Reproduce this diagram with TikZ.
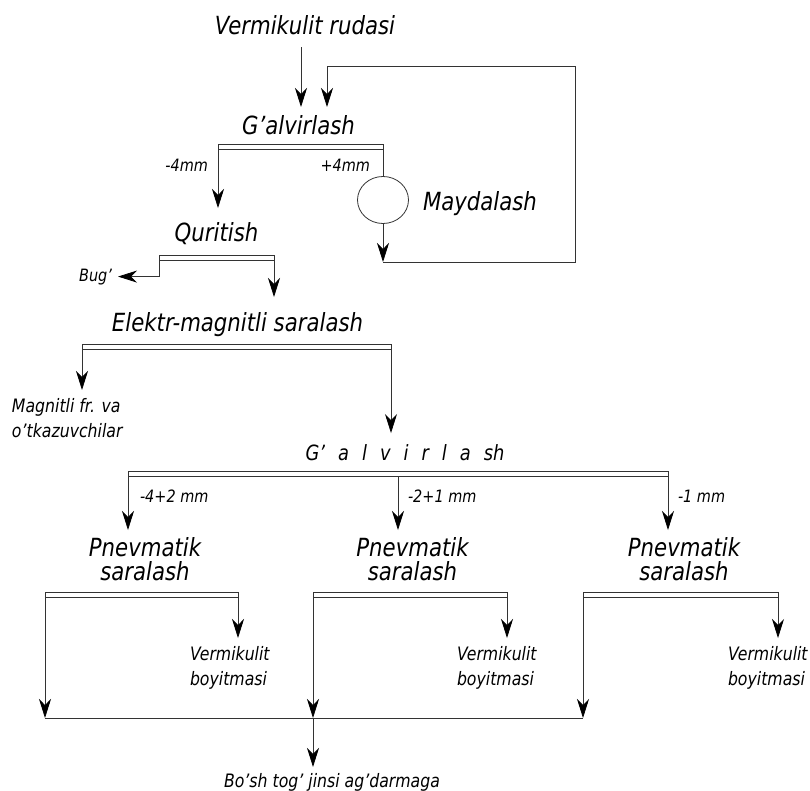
\documentclass[tikz,border=0pt]{standalone}
\usepackage{fontspec}
\setmainfont{DejaVu Sans}[FakeStretch=0.85]
\usetikzlibrary{arrows.meta,shapes.geometric}

\begin{document}
\begin{tikzpicture}[x=1pt,y=-1pt]
    \tikzset{
        flow/.style={draw=black!80, line width=0.8pt},
        arr/.style={flow, -{Stealth[length=19pt,width=12pt,inset=6pt,black]}},
        head/.style={font=\fontsize{25}{24}\selectfont\itshape, inner sep=0pt, outer sep=0pt},
        note/.style={font=\fontsize{18.5}{25}\selectfont\itshape, inner sep=0pt, outer sep=0pt},
        small/.style={font=\fontsize{17}{20}\selectfont\itshape, inner sep=0pt, outer sep=0pt},
        bar/.style={draw=black!80, line width=0.7pt, fill=white, minimum height=5pt, inner sep=0pt, outer sep=0pt},
        mill/.style={ellipse, draw=black!80, line width=0.8pt, minimum width=51pt, minimum height=47pt, inner sep=0pt, outer sep=0pt}
    }
    \useasboundingbox (0,0) rectangle (810,791);

    % Top: screening with crushing loop
    \node [head, anchor=base] (ruda) at (305,35) {Vermikulit rudasi};
    \node [head, anchor=base] (galv1) at (298.5,135) {G'alvirlash};
    \node [bar, minimum width=165pt] (b1) at (300.5,146.5) {};
    \node [small, anchor=base east] (mn4) at (208,172) {-4mm};
    \node [small, anchor=base east] (pl4) at (370,172) {+4mm};
    \node [mill] (mayd) at (383,200) {};
    \node [head, anchor=base west] (maydl) at (423,211) {Maydalash};
    \coordinate (ret) at (383,262);
    \coordinate (loopa) at (575,262);
    \coordinate (loopb) at (575,66);
    \coordinate (loopc) at (327,66);

    \draw [arr, shorten <=12pt, shorten >=9pt] ([xshift=-4pt]ruda.south) -- ([xshift=-4pt]ruda.south |- galv1.north);
    \draw [flow] (b1.south east) -- (mayd.north);
    \draw [arr] (mayd.south) -- (ret);
    \draw [arr, shorten >=9pt] (ret) -- (loopa) -- (loopb) -- (loopc) -- (loopc |- galv1.north);

    % Drying
    \node [head, anchor=base] (quri) at (216.5,242) {Quritish};
    \node [bar, minimum width=115pt] (b2) at (216.5,257.5) {};
    \node [small, anchor=base east] (bug) at (112,281) {Bug'};
    \draw [arr, shorten >=15pt] (b1.south west) -- (b1.south west |- quri.north);
    \draw [arr, shorten >=6pt] (b2.south west) |- (bug.east);

    % Electromagnetic separation
    \node [head, anchor=base] (elmag) at (237.5,331) {Elektr-magnitli saralash};
    \node [bar, minimum width=309pt] (b3) at (236.5,346.5) {};
    \node [note, anchor=north west, align=left] (magn) at (12,398) {Magnitli fr. va\\o'tkazuvchilar};
    \draw [arr, shorten >=15pt] (b2.south east) -- (b2.south east |- elmag.north);
    \draw [arr, shorten >=8pt] (b3.south west) -- (b3.south west |- magn.north);

    % Second screening
    \node [head, anchor=base, font=\fontsize{21}{21}\selectfont\itshape] (galv2) at (405,460) {\spaceskip 13pt\relax G' a l v i r l a sh};
    \node [bar, minimum width=540pt] (b4) at (398,474) {};
    \node [small, anchor=base west] (fr1) at (140,502) {-4+2 mm};
    \node [small, anchor=base west] (fr2) at (408,502) {-2+1 mm};
    \node [small, anchor=base west] (fr3) at (678,502) {-1 mm};
    \draw [arr, shorten >=11pt] (b3.south east) -- (b3.south east |- galv2.north);

    % Pneumatic separation
    \node [head, anchor=north, align=center] (pn1) at (145,538) {Pnevmatik\\saralash};
    \node [head, anchor=north, align=center] (pn2) at (412.5,538) {Pnevmatik\\saralash};
    \node [head, anchor=north, align=center] (pn3) at (684,538) {Pnevmatik\\saralash};
    \draw [arr, shorten >=8pt] (b4.south west) -- (b4.south west |- pn1.north);
    \draw [arr, shorten >=8pt] (b4.south) -- (b4.south |- pn2.north);
    \draw [arr, shorten >=8pt] (b4.south east) -- (b4.south east |- pn3.north);

    \node [bar, minimum width=193pt] (b5) at (141.5,594.5) {};
    \node [bar, minimum width=194pt] (b6) at (410,594.5) {};
    \node [bar, minimum width=195pt] (b7) at (680.5,594.5) {};
    \node [note, anchor=north west, align=left] (ver1) at (190,646) {Vermikulit\\boyitmasi};
    \node [note, anchor=north west, align=left] (ver2) at (457,646) {Vermikulit\\boyitmasi};
    \node [note, anchor=north west, align=left] (ver3) at (728,646) {Vermikulit\\boyitmasi};
    \draw [arr, shorten >=8pt] (b5.south east) -- (b5.south east |- ver1.north);
    \draw [arr, shorten >=8pt] (b6.south east) -- (b6.south east |- ver2.north);
    \draw [arr, shorten >=8pt] (b7.south east) -- (b7.south east |- ver3.north);

    % Tailings
    \coordinate (botl) at (45,718);
    \coordinate (botr) at (583,718);
    \node [note, anchor=base] (bosh) at (332,787) {Bo'sh tog' jinsi ag'darmaga};
    \draw [flow] (botl) -- (botr);
    \draw [arr] (b5.south west) -- (b5.south west |- botl);
    \draw [arr] (b6.south west) -- (b6.south west |- botl);
    \draw [arr] (b7.south west) -- (b7.south west |- botl);
    \draw [arr, shorten >=6pt] (b6.south west |- botl) -- (b6.south west |- bosh.north);

\end{tikzpicture}
\end{document}
